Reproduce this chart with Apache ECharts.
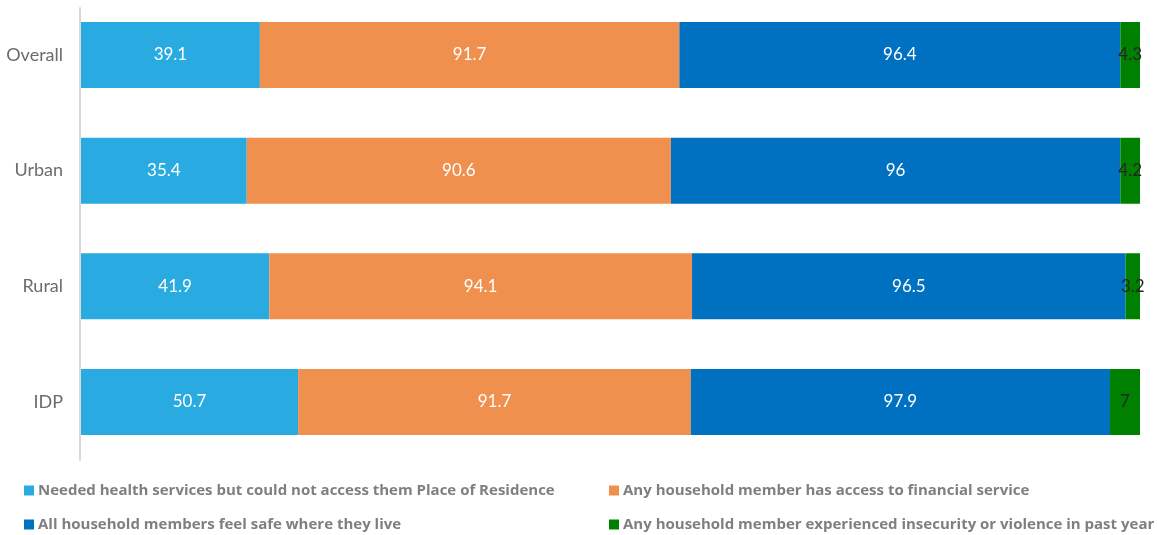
<!DOCTYPE html>
<html>
<head>
<meta charset="utf-8">
<script src="https://cdn.jsdelivr.net/npm/echarts@6/dist/echarts.min.js"></script>
<style>
  html, body { margin: 0; padding: 0; background: #fff; }
  #chart { width: 1157px; height: 535px; }
</style>
</head>
<body>
<div id="chart"></div>
<script>
// Groups, top to bottom
const categories = ['Overall', 'Urban', 'Rural', 'IDP'];

// Indicator values (%) per group
const healthNoAccess = [39.1, 35.4, 41.9, 50.7];
const financialAccess = [91.7, 90.6, 94.1, 91.7];
const feelSafe = [96.4, 96, 96.5, 97.9];
const insecurity = [4.3, 4.2, 3.2, 7];

const seriesNames = [
  'Needed health services but could not access them Place of Residence',
  'Any household member has access to financial service',
  'All household members feel safe where they live',
  'Any household member experienced insecurity or violence in past year'
];
const seriesValues = [healthNoAccess, financialAccess, feelSafe, insecurity];
const colors = ['#29ABE2', '#F0904F', '#0070C0', '#008000'];
const labelColors = ['#ffffff', '#ffffff', '#ffffff', '#262626'];

// Each bar is drawn as the share of its group's total (100% stacked)
const totals = categories.map((_, i) => seriesValues.reduce((s, arr) => s + arr[i], 0));

const FONT = 'Lato, "Open Sans", sans-serif';
const LEGEND_FONT = '"Open Sans", Lato, sans-serif';

const series = seriesNames.map((name, k) => ({
  name,
  type: 'bar',
  stack: 'total',
  barWidth: 66,
  itemStyle: { color: colors[k] },
  label: {
    show: true,
    position: 'inside',
    color: labelColors[k],
    fontFamily: FONT,
    fontSize: 17,
    formatter: p => String(seriesValues[k][p.dataIndex])
  },
  emphasis: { disabled: true },
  data: categories.map((_, i) => seriesValues[k][i] / totals[i] * 100)
}));

// Legend laid out as a 2x2 grid: one legend component per entry
const legendSlots = [
  { left: 24, top: 483 },
  { left: 609, top: 483 },
  { left: 24, top: 517 },
  { left: 609, top: 517 }
];
const legends = seriesNames.map((name, k) => ({
  left: legendSlots[k].left,
  top: legendSlots[k].top,
  padding: 0,
  itemWidth: 10,
  itemHeight: 10,
  itemGap: 0,
  icon: 'rect',
  data: [name],
  selectedMode: false,
  textStyle: { color: '#7f7f7f', fontFamily: LEGEND_FONT, fontSize: 15, fontWeight: 'bold', padding: [0, 0, 0, -1] }
}));

const chart = echarts.init(document.getElementById('chart'), null, { renderer: 'canvas' });
chart.setOption({
  animation: false,
  grid: [
    // bar area: category centres sit on the first and last rows
    { left: 81, right: 17, top: 55, height: 347 },
    // taller frame that carries only the vertical axis line
    { left: 80, right: 17, top: 8, height: 452 }
  ],
  xAxis: [
    { type: 'value', gridIndex: 0, min: 0, max: 100, show: false },
    { type: 'value', gridIndex: 1, min: 0, max: 100, show: false }
  ],
  yAxis: [
    {
      type: 'category',
      gridIndex: 0,
      inverse: true,
      boundaryGap: false,
      data: categories,
      axisLine: { show: false },
      axisTick: { show: false },
      splitLine: { show: false },
      axisLabel: { color: '#6b6b6b', fontFamily: FONT, fontSize: 18, margin: 18 }
    },
    {
      type: 'value',
      gridIndex: 1,
      min: 0,
      max: 1,
      axisLine: { show: true, lineStyle: { color: '#d9d9d9', width: 2 } },
      axisTick: { show: false },
      axisLabel: { show: false },
      splitLine: { show: false }
    }
  ],
  legend: legends,
  series
});
</script>
</body>
</html>
